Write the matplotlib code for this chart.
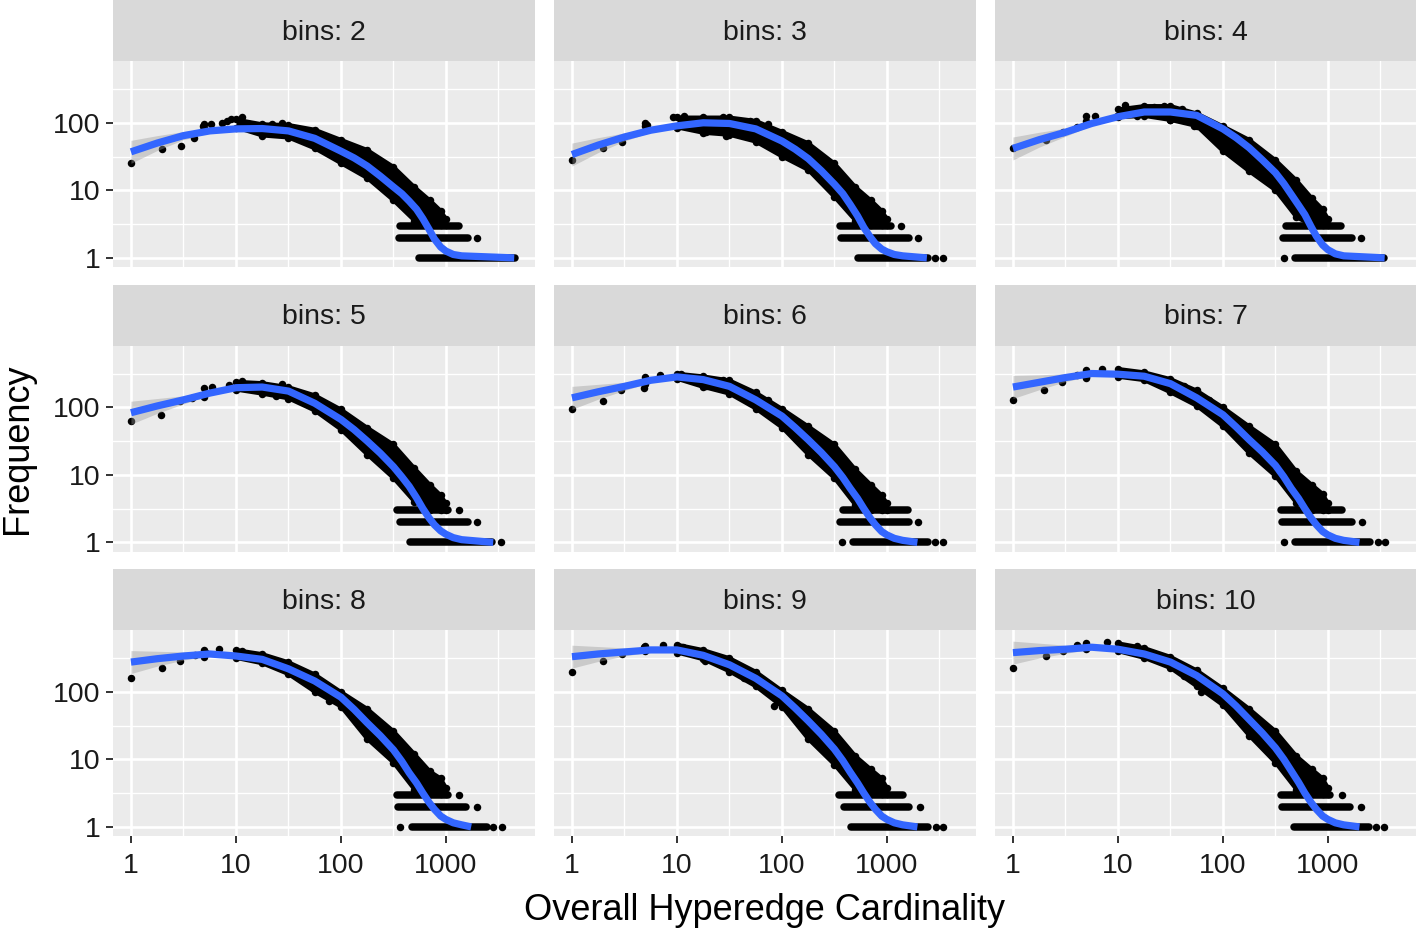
import numpy as np
import matplotlib.pyplot as plt

plt.rcParams['font.family'] = ['Liberation Sans', 'DejaVu Sans']

bins = [2, 3, 4, 5, 6, 7, 8, 9, 10]

# loess fit, log10(frequency) read at these log10(cardinality) positions
curve_logx = [0, 0.25, 0.5, 0.75, 1.0, 1.25, 1.5, 1.75, 2.0, 2.125, 2.25, 2.375, 2.5, 2.58,
              2.65, 2.72, 2.78, 2.84, 2.89, 2.95, 3.0, 3.07, 3.15]
curve_logy = [
    [1.57, 1.70, 1.81, 1.88, 1.91, 1.915, 1.88, 1.77, 1.58, 1.48, 1.36, 1.21, 1.05, 0.95,
     0.84, 0.72, 0.58, 0.42, 0.28, 0.16, 0.10, 0.05, 0.03],
    [1.53, 1.67, 1.79, 1.89, 1.955, 2.00, 1.99, 1.91, 1.73, 1.61, 1.47, 1.29, 1.09, 0.95,
     0.79, 0.62, 0.45, 0.31, 0.21, 0.13, 0.09, 0.05, 0.03],
    [1.62, 1.75, 1.86, 1.99, 2.09, 2.16, 2.16, 2.11, 1.91, 1.78, 1.63, 1.45, 1.26, 1.10,
     0.94, 0.78, 0.64, 0.46, 0.32, 0.19, 0.12, 0.06, 0.03],
    [1.92, 2.02, 2.11, 2.21, 2.29, 2.30, 2.24, 2.06, 1.82, 1.67, 1.50, 1.32, 1.12, 0.97,
     0.83, 0.66, 0.50, 0.36, 0.26, 0.17, 0.12, 0.07, 0.04],
    [2.14, 2.23, 2.31, 2.40, 2.45, 2.41, 2.31, 2.11, 1.87, 1.70, 1.52, 1.33, 1.12, 0.96,
     0.80, 0.65, 0.50, 0.36, 0.26, 0.16, 0.11, 0.06, 0.03],
    [2.30, 2.37, 2.44, 2.50, 2.49, 2.46, 2.35, 2.14, 1.89, 1.71, 1.52, 1.34, 1.14, 0.97,
     0.80, 0.65, 0.50, 0.36, 0.26, 0.16, 0.11, 0.06, 0.03],
    [2.44, 2.49, 2.53, 2.56, 2.53, 2.48, 2.34, 2.16, 1.92, 1.74, 1.54, 1.35, 1.14, 0.97,
     0.80, 0.65, 0.50, 0.36, 0.26, 0.16, 0.11, 0.06, 0.03],
    [2.52, 2.56, 2.59, 2.62, 2.62, 2.54, 2.40, 2.20, 1.94, 1.76, 1.57, 1.37, 1.15, 0.98,
     0.81, 0.65, 0.50, 0.36, 0.26, 0.16, 0.11, 0.06, 0.03],
    [2.58, 2.61, 2.63, 2.66, 2.63, 2.56, 2.44, 2.24, 1.97, 1.79, 1.59, 1.39, 1.17, 1.00,
     0.83, 0.66, 0.50, 0.36, 0.26, 0.16, 0.11, 0.06, 0.03],
]
curve_end = [3.65, 3.38, 3.54, 3.45, 3.29, 3.30, 3.24, 3.29, 3.30]
ribbon_half = [0.17, 0.11, 0.06, 0.03, 0.015, 0.01]

# outline of the point cloud (log10 frequency)
env_logx = [0.7, 1.0, 1.25, 1.5, 1.75, 2.0, 2.25, 2.5, 2.7, 2.85, 2.95, 3.0]
env_upper = [
    [1.98, 2.05, 1.98, 1.97, 1.90, 1.75, 1.60, 1.35, 1.05, 0.85, 0.70, 0.58],
    [2.00, 2.08, 2.08, 2.08, 2.03, 1.87, 1.70, 1.40, 1.05, 0.85, 0.70, 0.58],
    [2.10, 2.20, 2.25, 2.25, 2.14, 1.95, 1.75, 1.45, 1.15, 0.88, 0.72, 0.58],
    [2.28, 2.38, 2.36, 2.30, 2.18, 1.97, 1.70, 1.45, 1.10, 0.85, 0.70, 0.58],
    [2.45, 2.50, 2.46, 2.40, 2.22, 1.98, 1.72, 1.45, 1.08, 0.85, 0.70, 0.58],
    [2.55, 2.57, 2.52, 2.42, 2.25, 2.00, 1.72, 1.45, 1.05, 0.85, 0.72, 0.58],
    [2.62, 2.62, 2.56, 2.44, 2.26, 2.00, 1.75, 1.42, 1.08, 0.82, 0.72, 0.58],
    [2.68, 2.70, 2.62, 2.50, 2.30, 2.02, 1.75, 1.42, 1.05, 0.85, 0.72, 0.58],
    [2.72, 2.72, 2.65, 2.52, 2.32, 2.05, 1.75, 1.42, 1.05, 0.85, 0.72, 0.58],
]
env_lower = [
    [1.92, 1.93, 1.81, 1.78, 1.62, 1.40, 1.18, 0.85, 0.55, 0.48, 0.48, 0.48],
    [1.95, 1.93, 1.85, 1.82, 1.72, 1.50, 1.30, 0.90, 0.55, 0.48, 0.48, 0.48],
    [2.02, 2.08, 2.10, 2.04, 1.95, 1.58, 1.28, 1.00, 0.60, 0.48, 0.48, 0.48],
    [2.15, 2.26, 2.20, 2.13, 1.95, 1.67, 1.30, 0.95, 0.60, 0.48, 0.48, 0.48],
    [2.35, 2.42, 2.30, 2.20, 1.98, 1.70, 1.30, 0.95, 0.55, 0.48, 0.48, 0.48],
    [2.45, 2.45, 2.40, 2.22, 2.02, 1.72, 1.32, 0.98, 0.58, 0.48, 0.48, 0.48],
    [2.52, 2.50, 2.42, 2.26, 2.00, 1.78, 1.30, 0.95, 0.55, 0.48, 0.48, 0.48],
    [2.60, 2.58, 2.48, 2.30, 2.08, 1.78, 1.30, 0.92, 0.55, 0.48, 0.48, 0.48],
    [2.64, 2.60, 2.50, 2.35, 2.08, 1.80, 1.35, 0.95, 0.55, 0.48, 0.48, 0.48],
]
solid_from = 1  # index in env_logx where the cloud becomes solid

# single points (log10 cardinality, log10 frequency)
points = [
    [(0, 1.40), (0.30, 1.61), (0.48, 1.66), (0.60, 1.77), (0.69, 1.95), (0.76, 1.98), (0.87, 1.99),
     (0.91, 2.03), (0.95, 2.05), (1.06, 2.08), (1.12, 1.98), (1.25, 1.83), (1.28, 1.95), (1.34, 1.98), (1.44, 1.99)],
    [(0, 1.45), (0.30, 1.62), (0.48, 1.71), (0.71, 1.97), (0.96, 2.08), (1.07, 2.10), (1.15, 1.95),
     (1.28, 1.87), (1.44, 2.08), (1.47, 1.81), (1.57, 2.03), (1.70, 2.02), (1.87, 1.98), (2.02, 1.51)],
    [(0, 1.62), (0.31, 1.75), (0.48, 1.87), (0.61, 1.94), (0.78, 2.10), (0.99, 2.10), (1.07, 2.27),
     (1.18, 2.10), (1.34, 2.23), (1.44, 2.25), (1.50, 2.04), (1.61, 2.20), (1.72, 1.96)],
    [(0, 1.80), (0.29, 1.89), (0.47, 2.09), (0.58, 2.14), (0.69, 2.18), (0.77, 2.30), (0.93, 2.33),
     (1.06, 2.39), (1.25, 2.21), (1.38, 2.16), (1.44, 2.34)],
    [(0, 1.97), (0.30, 2.09), (0.47, 2.26), (0.69, 2.29), (0.84, 2.48), (1.04, 2.49), (1.28, 2.31),
     (1.44, 2.41), (1.54, 2.21), (1.87, 2.11)],
    [(0, 2.11), (0.30, 2.26), (0.47, 2.38), (0.61, 2.48), (0.70, 2.44), (0.85, 2.57), (1.04, 2.53),
     (1.37, 2.36), (1.52, 2.25), (1.63, 2.31), (1.87, 2.11)],
    [(0, 2.20), (0.30, 2.35), (0.47, 2.45), (0.61, 2.54), (0.71, 2.57), (0.84, 2.64), (1.06, 2.60),
     (1.38, 2.44), (1.54, 2.33), (1.73, 2.06), (1.89, 1.87)],
    [(0, 2.29), (0.30, 2.46), (0.48, 2.56), (0.69, 2.66), (0.87, 2.69), (1.06, 2.66), (1.27, 2.46),
     (1.64, 2.21), (1.92, 1.79)],
    [(0, 2.35), (0.31, 2.53), (0.48, 2.61), (0.61, 2.69), (0.90, 2.73), (1.18, 2.68), (1.50, 2.39),
     (1.63, 2.24), (1.79, 1.99)],
]

# runs of points at frequency 3, 2, 1 (log10 cardinality start/end)
row_freq = [3, 2, 1]
row_start = [
    [2.56, 2.55, 2.74], [2.55, 2.56, 2.72], [2.60, 2.57, 2.69], [2.53, 2.56, 2.66], [2.58, 2.55, 2.68],
    [2.55, 2.56, 2.69], [2.53, 2.54, 2.68], [2.54, 2.59, 2.66], [2.55, 2.56, 2.68],
]
row_end = [
    [3.12, 3.21, 3.66], [3.04, 3.21, 3.39], [3.12, 3.23, 3.53], [3.02, 3.21, 3.44], [3.20, 3.21, 3.39],
    [3.13, 3.23, 3.40], [3.02, 3.19, 3.39], [3.15, 3.21, 3.39], [3.02, 3.21, 3.39],
]
row_extra = [
    [(3.30, 2)],
    [(3.13, 3), (3.30, 2), (3.46, 1), (3.53, 1)],
    [(3.31, 2), (2.58, 1)],
    [(3.12, 3), (3.30, 2), (3.52, 1)],
    [(3.30, 2), (2.57, 1), (3.46, 1), (3.53, 1)],
    [(3.32, 2), (2.58, 1), (3.48, 1), (3.54, 1)],
    [(3.12, 3), (3.30, 2), (2.56, 1), (3.45, 1), (3.53, 1)],
    [(3.31, 2), (3.47, 1), (3.53, 1)],
    [(3.13, 3), (3.31, 2), (3.46, 1), (3.53, 1)],
]

W, H = 1416, 931
fig = plt.figure(figsize=(W / 100, H / 100), dpi=100)
col_left = [113, 554, 995]
row_top = [61, 345.5, 630]
pw, ph, sh = 422, 206, 61
dot = 5.4  # point diameter in pt

for i, b in enumerate(bins):
    r, c = divmod(i, 3)
    left, top = col_left[c], row_top[r]
    ax = fig.add_axes([left / W, 1 - (top + ph) / H, pw / W, ph / H])
    sax = fig.add_axes([left / W, 1 - top / H, pw / W, sh / H])
    sax.set_facecolor('#D9D9D9')
    sax.set_xticks([]); sax.set_yticks([])
    for s in sax.spines.values():
        s.set_visible(False)
    sax.text(0.5, 0.46, f'bins: {b}', ha='center', va='center', fontsize=20.5, color='#1A1A1A')

    ax.set_facecolor('#EBEBEB')
    for s in ax.spines.values():
        s.set_visible(False)
    ax.set_xscale('log'); ax.set_yscale('log')
    ax.set_xlim(10 ** -0.171, 10 ** 3.848)
    ax.set_ylim(10 ** -0.135, 10 ** 2.915)
    ax.set_xticks([1, 10, 100, 1000])
    ax.set_xticks([10 ** 0.5, 10 ** 1.5, 10 ** 2.5, 10 ** 3.5], minor=True)
    ax.set_yticks([1, 10, 100])
    ax.set_yticks([10 ** 0.5, 10 ** 1.5, 10 ** 2.5], minor=True)
    ax.grid(which='major', color='white', lw=1.9)
    ax.grid(which='minor', color='white', lw=0.95)
    ax.set_axisbelow(True)
    ax.tick_params(which='minor', length=0, labelbottom=False, labelleft=False)
    ax.tick_params(which='major', length=5, width=1.4, color='#333333', labelsize=20.5,
                   labelcolor='#1A1A1A', pad=4)
    ax.tick_params(axis='x', which='major', pad=7)
    if c == 0:
        ax.set_yticklabels(['1', '10', '100'])
    else:
        ax.tick_params(axis='y', which='major', length=0, labelleft=False)
    if r == 2:
        ax.set_xticklabels(['1', '10', '100', '1000'])
    else:
        ax.tick_params(axis='x', which='major', length=0, labelbottom=False)

    # point cloud
    ex = 10 ** np.array(env_logx)
    up = 10 ** np.array(env_upper[i])
    lo = 10 ** np.array(env_lower[i])
    k = solid_from
    ax.fill_between(ex[k:], lo[k:], up[k:], color='black', lw=0, zorder=2)
    for edge in (up, lo):
        ax.plot(ex[k:], edge[k:], color='black', lw=dot * 0.5, solid_joinstyle='round',
                solid_capstyle='round', zorder=2)
        ax.scatter(ex, edge, s=dot ** 2, color='black', lw=0, zorder=2)

    px = [10 ** p[0] for p in points[i]]
    py = [10 ** p[1] for p in points[i]]
    ax.scatter(px, py, s=dot ** 2, color='black', lw=0, zorder=2)

    for f, x0, x1 in zip(row_freq, row_start[i], row_end[i]):
        ax.plot([10 ** x0, 10 ** x1], [f, f], color='black', lw=dot,
                solid_capstyle='round', zorder=2)
    ax.scatter([10 ** e[0] for e in row_extra[i]], [e[1] for e in row_extra[i]],
               s=dot ** 2, color='black', lw=0, zorder=2)

    # loess line with its confidence ribbon
    cx = 10 ** np.array(curve_logx + [curve_end[i]])
    cy = 10 ** np.array(curve_logy[i] + [0.0])
    n = len(ribbon_half)
    rh = np.array(ribbon_half)
    ly = np.array(curve_logy[i][:n])
    ax.fill_between(cx[:n], 10 ** (ly - rh), 10 ** (ly + rh), color='#999999', alpha=0.4, lw=0, zorder=3)
    ax.plot(cx, cy, color='#3366FF', lw=5.2, solid_capstyle='butt', solid_joinstyle='round', zorder=4)

fig.text(764.5 / W, 1 - 910 / H, 'Overall Hyperedge Cardinality', ha='center', va='center',
         fontsize=26, color='black')
fig.text(18 / W, 1 - 449 / H, 'Frequency', ha='center', va='center', rotation=90,
         fontsize=26, color='black')

fig.savefig('out.png', dpi=100)
